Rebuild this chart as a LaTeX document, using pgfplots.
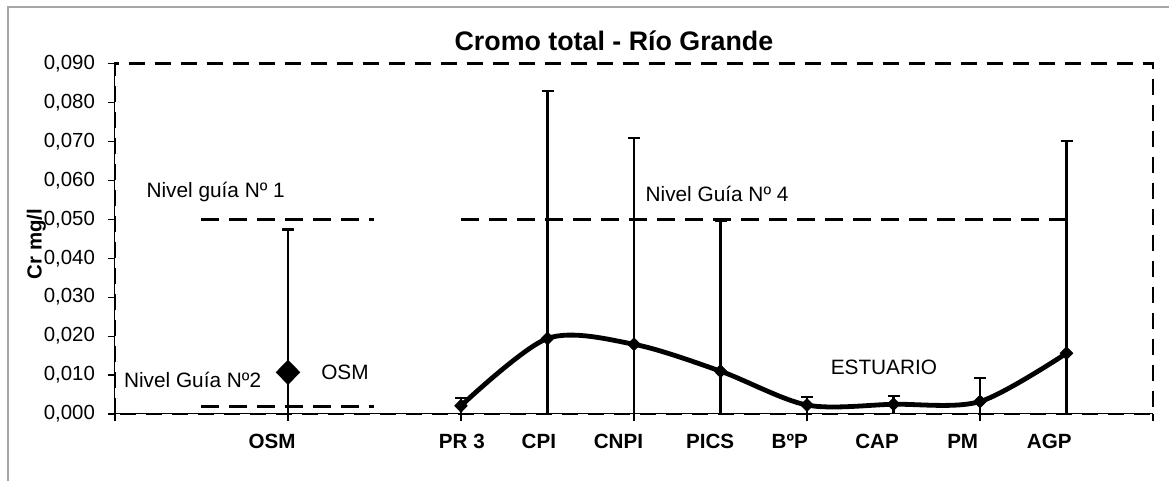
\documentclass[border=0pt]{standalone}
\usepackage{pgfplots}
\pgfplotsset{compat=1.18}
\usepackage{pgfplotstable}
\usepackage{fontspec}
\setmainfont{Liberation Sans}

\pgfplotstableread{
x y ep em
4 0.0021 0.0021 0.0021
5 0.0194 0.0635 0.0194
6 0.0179 0.0530 0.0179
7 0.0110 0.0386 0.0110
8 0.0023 0.0021 0.0023
9 0.0025 0.0022 0.0025
10 0.0032 0.0060 0.0032
11 0.0156 0.0544 0.0156
}\rio
\pgfplotstableread{
x y ep em
2 0.0107 0.0367 0.0107
}\osm

\begin{document}
\begin{tikzpicture}
\path[use as bounding box] (-57.5pt,-33.5pt) rectangle (527pt,207pt);
\draw[gray!70, line width=0.6pt] (-53.5pt,-40pt) -- (-53.5pt,203.5pt) -- (540pt,203.5pt);
\begin{axis}[
  at={(0,0)}, anchor=south west,
  scale only axis, width=519pt, height=175.25pt,
  xmin=0, xmax=12, ymin=0, ymax=0.09,
  axis x line=bottom, axis y line=left,
  axis line style={-, line width=0.5pt, black},
  clip=false,
  tick align=outside,
  major tick length=3.5pt,
  tick style={black, line width=0.6pt},
  xtick={0,2,4,6,8,10,12}, xticklabels={,,,,,,},
  extra x ticks={1.815,4.01,4.9,5.82,6.88,7.8,8.81,9.8,10.8},
  extra x tick labels={OSM,PR 3,CPI,CNPI,PICS,BºP,CAP,PM,AGP},
  extra x tick style={major tick length=0pt,
     tick label style={font=\fontsize{10.3}{12}\selectfont\bfseries, yshift=-6.5pt}},
  ytick={0,0.01,0.02,0.03,0.04,0.05,0.06,0.07,0.08,0.09},
  scaled y ticks=false,
  /pgf/number format/assume math mode=true,
  yticklabel style={font=\fontsize{10.2}{12}\selectfont, xshift=-3pt,
     /pgf/number format/fixed, /pgf/number format/fixed zerofill,
     /pgf/number format/precision=3, /pgf/number format/use comma},
  title={Cromo total - Río Grande},
  title style={font=\fontsize{13.4}{16}\selectfont\bfseries, at={(axis description cs:0.4807,1)}, anchor=base, yshift=0.75pt},
  ylabel={Cr mg/l},
  ylabel style={font=\fontsize{10.2}{12}\selectfont\bfseries, at={(axis description cs:-0.0708,0.485)}, anchor=base},
]
\draw[black, line width=1.2pt, dash pattern=on 8pt off 5pt] (rel axis cs:0,0) rectangle (rel axis cs:1,1);
% guide levels
\addplot[black, line width=1.4pt, dash pattern=on 9pt off 5pt, forget plot] coordinates {(1,0.05) (3,0.05)};
\addplot[black, line width=1.4pt, dash pattern=on 9pt off 5pt, forget plot] coordinates {(1,0.002) (3,0.002)};
\addplot[black, line width=1.4pt, dash pattern=on 9pt off 5pt, forget plot] coordinates {(4,0.05) (11,0.05)};
% lower error bars
\addplot[draw=none, mark=none, forget plot, error bars/.cd, y dir=minus, y explicit, error mark=none,
  error bar style={line width=1.1pt, black, solid}] table[x=x, y=y, y error minus=em] {\rio};
\addplot[draw=none, mark=none, forget plot, error bars/.cd, y dir=minus, y explicit, error mark=none,
  error bar style={line width=1.1pt, black, solid}] table[x=x, y=y, y error minus=em] {\osm};
% main series
\addplot[black, line width=2.4pt, smooth, mark=diamond*, mark size=3.2pt,
  mark options={solid, line width=0.4pt, xscale=1.3},
  error bars/.cd, y dir=plus, y explicit, error mark=|,
  error bar style={line width=1.1pt, black, solid},
  error mark options={mark size=3pt, line width=1.1pt, black, solid}]
  table[x=x, y=y, y error plus=ep] {\rio};
\addplot[only marks, black, mark=diamond*, mark size=6pt,
  mark options={solid, line width=0.4pt, xscale=1.3},
  error bars/.cd, y dir=plus, y explicit, error mark=|,
  error bar style={line width=1.1pt, black, solid},
  error mark options={mark size=3pt, line width=1.1pt, black, solid}]
  table[x=x, y=y, y error plus=ep] {\osm};
% annotations
\node[anchor=west, inner sep=0pt, font=\fontsize{10.4}{12}\selectfont] at (axis cs:0.36,0.057) {Nivel guía Nº 1};
\node[anchor=west, inner sep=0pt, font=\fontsize{10.4}{12}\selectfont] at (axis cs:0.1,0.0087) {Nivel Guía Nº2};
\node[anchor=west, inner sep=0pt, font=\fontsize{10.4}{12}\selectfont] at (axis cs:2.38,0.0108) {OSM};
\node[anchor=west, inner sep=0pt, font=\fontsize{10.4}{12}\selectfont] at (axis cs:6.13,0.0566) {Nivel Guía Nº 4};
\node[anchor=west, inner sep=0pt, font=\fontsize{10.4}{12}\selectfont] at (axis cs:8.27,0.0119) {ESTUARIO};
\end{axis}
\end{tikzpicture}
\end{document}
